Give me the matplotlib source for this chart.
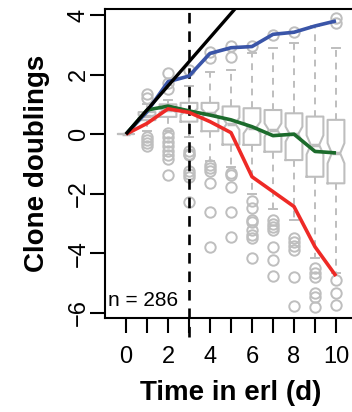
import numpy as np
import matplotlib
matplotlib.use("Agg")
import matplotlib.pyplot as plt

plt.rcParams['font.family'] = ['Liberation Sans', 'DejaVu Sans']

# ---------------- data ----------------
days = [0, 1, 2, 3, 4, 5, 6, 7, 8, 9, 10]
q1 = [0.0, 0.47, 0.58, 0.42, 0.10, -0.35, -0.36, -0.59, -0.87, -1.43, -1.65]
med = [0.0, 0.60, 0.80, 0.75, 0.70, 0.35, 0.22, 0.14, 0.00, -0.36, -0.64]
q3 = [0.0, 0.74, 1.00, 1.05, 1.05, 0.93, 0.87, 0.81, 0.70, 0.59, 0.48]
whis_lo = [0.0, 0.10, 0.10, -0.10, -0.90, -1.10, -2.00, -2.51, -2.88, -4.16, -4.66]
whis_hi = [0.0, 1.00, 1.15, 1.60, 2.10, 2.15, 2.71, 2.88, 3.05, 3.63, 2.90]
outliers = [
    [],
    [1.35, 1.20, -0.10, -0.20, -0.30, -0.40],
    [2.05, 1.72, 1.50, 0.05, -0.10, -0.25, -0.40, -0.55, -0.70, -0.85, -1.37],
    [2.15, -0.55, -0.65, -0.70, -1.25, -1.35, -1.45, -2.28],
    [2.55, 2.75, -1.05, -1.15, -1.25, -1.64, -2.60, -3.78],
    [2.60, 2.95, -1.31, -1.36, -1.76, -2.60, -3.44],
    [2.97, -2.26, -2.48, -2.88, -2.95, -3.22, -3.38, -3.48, -4.16],
    [3.33, -2.88, -3.00, -3.10, -3.20, -3.78, -4.22, -4.76],
    [3.44, -3.49, -3.62, -3.75, -3.89, -4.78, -5.77],
    [-4.50, -4.65, -4.80, -5.33, -5.45, -5.79],
    [3.90, 3.72, -4.90, -5.34, -5.73],
]
n_clones = 286

blue_vals = [0.0, 0.75, 1.76, 1.95, 2.71, 2.90, 2.94, 3.35, 3.42, 3.63, 3.80]
green_vals = [0.0, 0.81, 0.94, 0.78, 0.64, 0.48, 0.25, -0.05, 0.00, -0.58, -0.63]
red_vals = [0.0, 0.36, 0.85, 0.73, 0.42, 0.05, -1.43, -1.93, -2.43, -3.78, -4.76]
black_t = [0, 6]
black_v = [0, 4.86]
split_day = 3

xtick_pos = [0, 1, 2, 3, 4, 5, 6, 7, 8, 9, 10]
xtick_labels = ['0', '', '2', '', '4', '', '6', '', '8', '', '10']
ytick_pos = [-6, -4, -2, 0, 2, 4]
ytick_labels = ['\u22126', '\u22124', '\u22122', '0', '2', '4']

# ---------------- figure ----------------
W, H = 352, 412
fig = plt.figure(figsize=(W / 100, H / 100), dpi=100)
ax = fig.add_axes([105 / W, 1 - 318 / H, 252 / W, 309 / H])

gray = '#BEBEBE'
stats = []
for i in range(len(days)):
    iqr = q3[i] - q1[i]
    ci = 1.58 * iqr / np.sqrt(n_clones) * 1.7
    stats.append(dict(med=med[i], q1=q1[i], q3=q3[i], whislo=whis_lo[i],
                      whishi=whis_hi[i], fliers=outliers[i],
                      cilo=med[i] - ci, cihi=med[i] + ci))

ax.bxp(stats, positions=days, widths=0.8, shownotches=True,
       capwidths=0.38, manage_ticks=False,
       boxprops=dict(color=gray, lw=1.5),
       whiskerprops=dict(color=gray, lw=1.4, linestyle=(0, (3.5, 3))),
       capprops=dict(color=gray, lw=1.4),
       medianprops=dict(color=gray, lw=2.5),
       flierprops=dict(marker='o', mfc='none', mec=gray, ms=7.5, mew=1.4),
       zorder=2)

ax.axvline(split_day, ymin=-0.06, ymax=1.0, color='black', lw=1.9,
           linestyle=(0, (4, 3)), clip_on=False, zorder=3)

ax.plot(days, blue_vals, color='#3A55A8', lw=2.6, zorder=4, solid_capstyle='butt')
ax.plot(days, green_vals, color='#1C6B2C', lw=2.6, zorder=4, solid_capstyle='butt')
ax.plot(days, red_vals, color='#EE2A26', lw=2.6, zorder=4, solid_capstyle='butt')
ax.plot(black_t, black_v, color='black', lw=2.4, zorder=5, solid_capstyle='butt')

ax.set_xlim(-1, 11)
ax.set_ylim(-6.17, 4.2)

for s in ['left', 'top', 'bottom']:
    ax.spines[s].set_linewidth(1.5)
ax.spines['right'].set_visible(False)

ax.set_xticks(xtick_pos)
ax.set_xticklabels(xtick_labels, fontsize=17)
ax.set_yticks(ytick_pos)
ax.set_yticklabels(ytick_labels, fontsize=17, rotation=90, va='center')
ax.tick_params(axis='both', length=11, width=1.5)
ax.tick_params(axis='x', pad=9)
ax.tick_params(axis='y', pad=0)

ax.set_xlabel('Time in erl (d)', fontsize=20, fontweight='bold', labelpad=9)
ax.set_ylabel('Clone doublings', fontsize=20, fontweight='bold', labelpad=13)

ax.text(0.012, 0.058, 'n = 286', transform=ax.transAxes, fontsize=15,
        va='center', ha='left')

fig.savefig('out.png', dpi=100)
